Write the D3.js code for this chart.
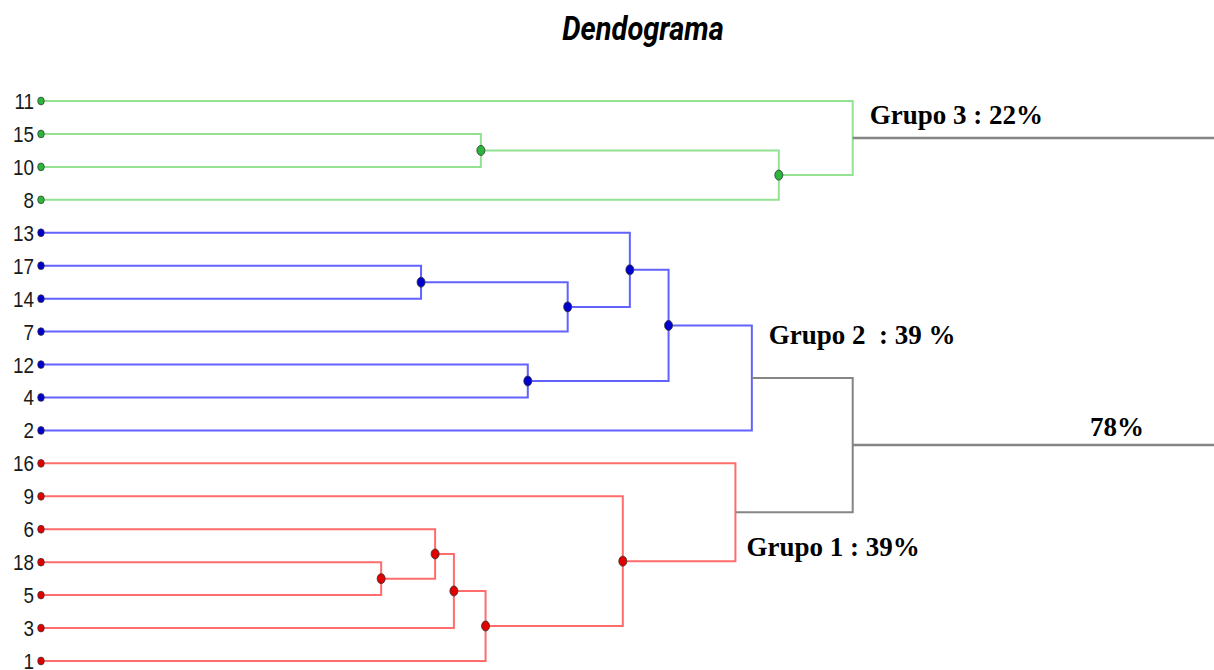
<!DOCTYPE html>
<html>
<head>
<meta charset="utf-8">
<script src="https://cdn.jsdelivr.net/npm/d3@7"></script>
<style>
  body { margin: 0; background: #fff; }
  svg { display: block; }
</style>
</head>
<body>
<svg id="chart" width="1214" height="670"></svg>
<script>
// leaf order top -> bottom, and group of each leaf
const leaves = ["11", "15", "10", "8", "13", "17", "14", "7", "12", "4", "2", "16", "9", "6", "18", "5", "3", "1"];
const leafGroup = [3, 3, 3, 3, 2, 2, 2, 2, 2, 2, 2, 1, 1, 1, 1, 1, 1, 1];

// merges: [child A, child B, height]; numbers point to earlier merges
const merges = [
  ["15", "10", 3.75],
  [0, "8", 6.29],
  ["11", 1, 6.92],   // grupo 3
  ["17", "14", 3.24],
  [3, "7", 4.49],
  ["13", 4, 5.02],
  ["12", "4", 4.15],
  [5, 6, 5.35],
  [7, "2", 6.06],    // grupo 2
  ["18", "5", 2.90],
  ["6", 9, 3.36],
  [10, "3", 3.52],
  [11, "1", 3.79],
  ["9", 12, 4.96],
  ["16", 13, 5.92],  // grupo 1
  [8, 14, 6.92]      // raiz
];
const maxHeight = 10;

const groupLabels = { 1: "Grupo 1 : 39%", 2: "Grupo 2  : 39 %", 3: "Grupo 3 : 22%" };
const rootLabel = "78%";
const title = "Dendograma";

const lineColor = { 1: "#ff6c6c", 2: "#6262ff", 3: "#92e292" };
const dotColor = { 1: "#e00000", 2: "#0000cc", 3: "#2cb53c" };
const gray = "#858585";

const svg = d3.select("#chart");

const x = d3.scaleLinear().domain([0, maxHeight]).range([41, 1214]);
const y = d3.scalePoint().domain(leaves).range([101, 661]);

// build nodes
const leafNodes = {};
leaves.forEach((name, i) => {
  leafNodes[name] = { name: name, h: 0, y: y(name), group: leafGroup[i], leaf: true };
});
const mergeNodes = [];
merges.forEach((m) => {
  const kids = [m[0], m[1]].map((c) => typeof c === "number" ? mergeNodes[c] : leafNodes[c]);
  const node = {
    children: kids,
    h: m[2],
    y: (kids[0].y + kids[1].y) / 2,
    group: kids[0].group === kids[1].group ? kids[0].group : null
  };
  kids.forEach((k) => k.parent = node);
  mergeNodes.push(node);
});

// title
svg.append("text")
  .attr("transform", "translate(643,40) scale(0.88,1)")
  .attr("text-anchor", "middle")
  .style("font-family", "Roboto, 'Liberation Sans', sans-serif")
  .style("font-weight", "bold")
  .style("font-style", "italic")
  .style("font-size", "33px")
  .attr("fill", "#000")
  .text(title);

// links
const links = [];
mergeNodes.forEach((p) => {
  p.children.forEach((c) => links.push({ source: p, target: c }));
});

svg.append("g")
  .selectAll("path")
  .data(links)
  .join("path")
  .attr("d", (d) => `M${x(d.target.h)},${d.target.y}H${x(d.source.h)}V${d.source.y}`)
  .attr("fill", "none")
  .attr("stroke", (d) => d.source.group ? lineColor[d.source.group] : gray)
  .attr("stroke-width", 2);

// top nodes run out to the right edge
svg.append("g")
  .selectAll("path")
  .data(mergeNodes.filter((d) => !d.parent))
  .join("path")
  .attr("d", (d) => `M${x(d.h)},${d.y}H${x(maxHeight)}`)
  .attr("fill", "none")
  .attr("stroke", gray)
  .attr("stroke-width", 2.5);

// internal dots (not on group tops)
svg.append("g")
  .selectAll("ellipse")
  .data(mergeNodes.filter((d) => d.group && d.parent && d.parent.group === d.group))
  .join("ellipse")
  .attr("cx", (d) => x(d.h))
  .attr("cy", (d) => d.y)
  .attr("rx", 4)
  .attr("ry", 5)
  .attr("fill", (d) => dotColor[d.group])
  .attr("stroke", "#333")
  .attr("stroke-width", 0.8);

// leaf dots
const leafList = leaves.map((n) => leafNodes[n]);
svg.append("g")
  .selectAll("ellipse")
  .data(leafList)
  .join("ellipse")
  .attr("cx", (d) => x(0))
  .attr("cy", (d) => d.y)
  .attr("rx", 3.3)
  .attr("ry", 3.9)
  .attr("fill", (d) => dotColor[d.group])
  .attr("stroke", "#333")
  .attr("stroke-width", 0.7);

// leaf labels
svg.append("g")
  .selectAll("text")
  .data(leafList)
  .join("text")
  .attr("transform", (d) => `translate(34,${d.y + 8}) scale(0.86,1)`)
  .attr("text-anchor", "end")
  .style("font-family", "'Liberation Sans', Arial, sans-serif")
  .style("font-size", "22px")
  .attr("fill", "#1a1a1a")
  .text((d) => d.name);

// group annotations
const tops = {};
mergeNodes.forEach((d) => { if (d.group && (!d.parent || d.parent.group !== d.group)) tops[d.group] = d; });
const annOffset = { 1: [11, 44], 2: [17, -34], 3: [17, -14] };
const ann = Object.keys(groupLabels).map((g) => ({
  text: groupLabels[g],
  x: x(tops[g].h) + annOffset[g][0],
  y: tops[g].y + annOffset[g][1]
}));
const root = mergeNodes.find((d) => !d.parent && !d.group);
ann.push({ text: rootLabel, x: 1090, y: root.y - 9 });

svg.append("g")
  .selectAll("text")
  .data(ann)
  .join("text")
  .attr("x", (d) => d.x)
  .attr("y", (d) => d.y)
  .style("font-family", "'Liberation Serif', 'Times New Roman', serif")
  .style("font-weight", "bold")
  .style("font-size", "27px")
  .style("white-space", "pre")
  .attr("fill", "#000")
  .text((d) => d.text);
</script>
</body>
</html>
